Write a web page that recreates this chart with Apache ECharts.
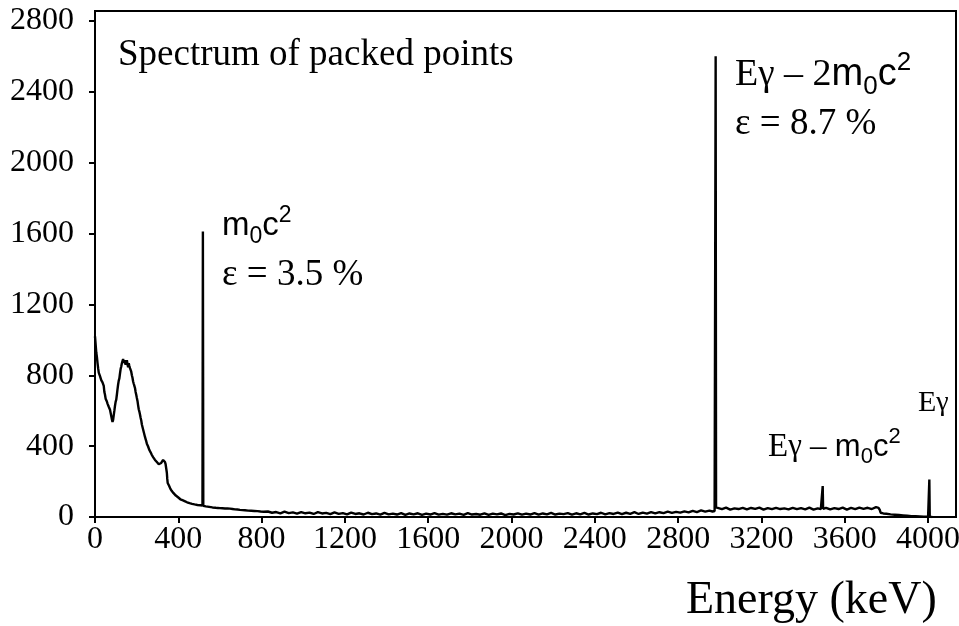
<!DOCTYPE html>
<html>
<head>
<meta charset="utf-8">
<script src="https://cdn.jsdelivr.net/npm/echarts@6/dist/echarts.min.js"></script>
<style>
html,body{margin:0;padding:0;background:#fff;}
#chart{width:959px;height:626px;}
</style>
</head>
<body>
<div id="chart"></div>
<script>
// ---- Data ----
const energy = [
 0,3,6,9,12,15,18,21,24,27,30,33,36,39,42,45,48,51,54,57,60,63,66,69,72,75,78,81,84,87,90,93,96,99,
 102,105,108,111,114,117,120,123,126,129,132,135,138,141,144,147,150,153,156,159,162,165,168,171,174,177,
 180,183,186,189,192,195,198,201,204,207,210,213,216,219,222,225,228,231,234,237,240,243,246,249,252,255,
 258,261,264,267,270,273,276,279,282,285,288,291,294,297,300,303,306,309,312,315,318,321,324,327,330,333,
 336,339,342,345,347,349,352,355,358,361,364,368,372,376,380,384,388,392,396,400,405,410,415,420,425,430,
 436,442,448,454,460,466,472,478,485,492,500,506,512,516,518,520,525,532,540,548,556,564,572,580,590,600,
 612,624,636,648,660,672,684,696,708,720,735,750,765,780,795,810,
 830,850,870,890,910,930,950,970,990,1010,1030,1050,1070,1090,1110,1130,1150,1170,1190,1210,1230,1250,
 1270,1290,1310,1330,1350,1370,1390,1410,1430,1450,1470,1490,1510,1530,1550,1570,1590,1610,1630,1650,
 1670,1690,1710,1730,1750,1770,1790,1810,1830,1850,1870,1890,1910,1930,1950,1970,1990,2010,2030,2050,
 2070,2090,2110,2130,2150,2170,2190,2210,2230,2250,2270,2290,2310,2330,2350,2370,2390,2410,2430,2450,
 2470,2490,2510,2530,2550,2570,2590,2610,2630,2650,2670,2690,2710,2730,2750,2770,2790,2810,2830,2850,
 2870,2890,2910,2930,2950,2965,2975,2978,2980,2982,
 2990,3010,3030,3050,3070,3090,3110,3130,3150,3170,3190,3210,3230,3250,3270,3290,3310,3330,3350,3370,
 3390,3410,3430,3450,3470,3485,3492,3494,3496,3510,3530,3550,3570,3590,3610,3630,3650,3670,3690,3710,
 3730,3750,3762,3768,3772,3785,3800,3820,3840,3860,3880,3900,3920,3940,3960,3980,4000,4004,4006,4008,4020
];
const counts = [
 1020,975,930,905,870,840,815,805,795,790,772,780,760,752,740,705,690,668,660,652,640,632,622,615,605,598,570,552,536,548,575,600,628,650,
 662,690,720,748,770,782,810,835,850,868,880,892,870,885,878,860,872,885,862,845,868,852,840,838,820,800,
 786,765,752,740,728,706,690,672,655,630,608,595,578,560,545,522,508,494,480,470,452,440,428,414,405,398,
 388,378,382,365,362,350,345,338,330,334,322,318,315,310,312,305,298,302,296,300,305,310,298,322,318,325,
 310,298,288,250,215,192,185,178,168,162,152,148,140,136,130,126,121,118,114,110,106,100,98,95,92,90,
 86,83,80,78,76,74,72,71,70,68,67,66,64,64,1612,63,61,60,58,57,55,54,53,52,51,50,
 49,48,48,47,45,43,42,40,39,38,36,35,34,33,31,30,
 31,24,28,20,30,22,26,19,28,21,25,17,27,20,23,16,26,18,22,15,25,17,
 21,14,24,16,20,13,23,15,19,14,22,12,20,15,21,12,19,14,22,13,
 18,13,21,15,19,12,22,14,17,13,21,12,19,15,20,11,18,14,21,13,
 19,14,22,13,20,15,23,14,19,16,22,13,21,15,23,14,20,16,24,15,
 22,17,25,16,24,18,27,17,25,19,28,20,27,22,30,23,29,25,32,26,
 35,28,37,30,36,31,34,34,2600,54,
 50,44,53,42,49,45,52,43,51,46,53,42,50,44,52,45,49,43,52,44,
 50,43,53,42,49,44,47,175,46,52,43,50,45,53,42,51,44,53,46,52,
 45,56,52,40,24,20,18,15,13,11,9,7,5,4,3,2,2,2,212,1,0
];
const xTickValues = [0,400,800,1200,1600,2000,2400,2800,3200,3600,4000];
const yTickValues = [0,400,800,1200,1600,2000,2400,2800];

const SERIF = '"Liberation Serif", "Times New Roman", serif';
const SANS = '"Liberation Sans", Arial, sans-serif';

const chart = echarts.init(document.getElementById('chart'), null, {renderer: 'canvas'});

const sansTok = (size, lh) => ({fontFamily: SANS, fontSize: size, fill: '#000', lineHeight: lh, verticalAlign: 'middle'});
const serifTok = (size, lh) => ({fontFamily: SERIF, fontSize: size, fill: '#000', lineHeight: lh, verticalAlign: 'middle'});
const supTok = (size) => ({fontFamily: SANS, fontSize: size, fill: '#000', lineHeight: size, verticalAlign: 'top'});
const subTok = (size) => ({fontFamily: SANS, fontSize: size, fill: '#000', lineHeight: size, verticalAlign: 'bottom'});

chart.setOption({
  animation: false,
  backgroundColor: '#fff',
  grid: {left: 95, right: 3, top: 11, bottom: 109, show: true, borderColor: '#000', borderWidth: 2,
         containLabel: false, outerBoundsMode: 'none'},
  xAxis: {
    type: 'value', min: 0, max: 4134,
    axisLine: {show: true, onZero: false, lineStyle: {color: '#000', width: 2}},
    axisTick: {show: true, inside: false, length: 6, lineStyle: {color: '#000', width: 2}, customValues: xTickValues},
    axisLabel: {show: true, margin: 7, color: '#000', fontFamily: SERIF, fontSize: 32, customValues: xTickValues,
                formatter: v => String(v)},
    splitLine: {show: false}
  },
  yAxis: {
    type: 'value', min: 0, max: 2856,
    axisLine: {show: true, lineStyle: {color: '#000', width: 2}},
    axisTick: {show: true, inside: false, length: 6, lineStyle: {color: '#000', width: 2}, customValues: yTickValues},
    axisLabel: {show: true, margin: 21, color: '#000', fontFamily: SERIF, fontSize: 32, customValues: yTickValues,
                formatter: v => String(v)},
    splitLine: {show: false}
  },
  series: [{
    type: 'line',
    data: energy.map((e, i) => [e, counts[i]]),
    showSymbol: false,
    symbol: 'none',
    lineStyle: {color: '#000', width: 2.4},
    clip: true
  }],
  graphic: [
    {type: 'text', left: 118, top: 37, style: {text: 'Spectrum of packed points', font: '37px ' + SERIF, fill: '#000'}},
    {type: 'text', left: 686, top: 578, style: {text: 'Energy (keV)', font: '46px ' + SERIF, fill: '#000'}},
    // m0c2 label
    {type: 'text', left: 222, top: 204, style: {
      text: '{m|m}{sub|0}{m|c}{sup|2}',
      rich: {m: sansTok(33, 44), sub: subTok(23), sup: supTok(23)}
    }},
    {type: 'text', left: 222, top: 257, style: {text: 'ε = 3.5 %', font: '37px ' + SERIF, fill: '#000'}},
    // E_gamma - 2 m0c2 label
    {type: 'text', left: 735, top: 50, style: {
      text: '{e|E}{g|γ}{d| – 2}{m|m}{sub|0}{m|c}{sup|2}',
      rich: {e: serifTok(38, 50), g: serifTok(37, 50), d: serifTok(38, 50), m: sansTok(38, 50), sub: subTok(26), sup: supTok(26)}
    }},
    {type: 'text', left: 735, top: 106, style: {text: 'ε = 8.7 %', font: '37px ' + SERIF, fill: '#000'}},
    // E_gamma - m0c2 label
    {type: 'text', left: 768, top: 426, style: {
      text: '{e|E}{g|γ}{d| – }{m|m}{sub|0}{m|c}{sup|2}',
      rich: {e: serifTok(33, 42), g: serifTok(31, 42), d: serifTok(33, 42), m: sansTok(31, 42), sub: subTok(22), sup: supTok(22)}
    }},
    // E_gamma label
    {type: 'text', left: 918, top: 388, style: {
      text: '{e|E}{g|γ}',
      rich: {e: serifTok(30, 40), g: serifTok(28, 40)}
    }}
  ]
});
</script>
</body>
</html>
